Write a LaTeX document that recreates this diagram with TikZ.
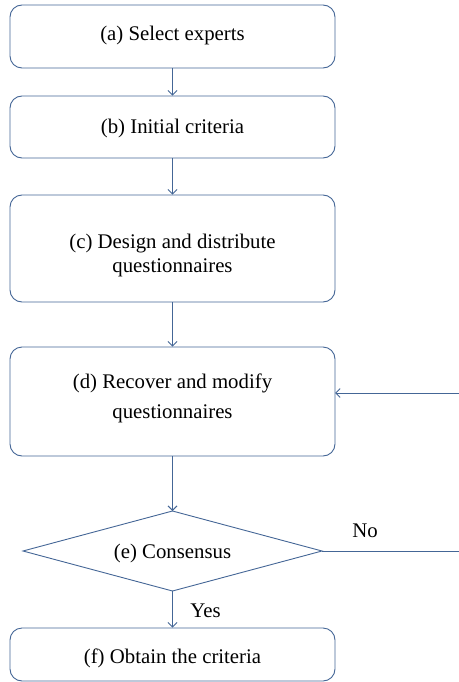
\documentclass[tikz,border=0pt]{standalone}
\usepackage{fontspec}
\setmainfont{Liberation Serif}
\usetikzlibrary{arrows.meta}
\definecolor{linec}{RGB}{68,102,150}
\begin{document}
\begin{tikzpicture}[x=1pt,y=-1pt,
  box/.style={draw=linec, line width=0.9pt, rounded corners=12pt, minimum width=325pt, inner sep=0pt},
  txt/.style={font=\fontsize{20.8}{24}\selectfont, anchor=base, inner sep=0pt, text=black},
  conn/.style={draw=linec, line width=0.9pt, -{Straight Barb[length=4.5pt,width=9pt]}},
  line/.style={draw=linec, line width=0.9pt}]
\useasboundingbox (0,0) rectangle (458,682);
% boxes
\node[box, minimum height=63pt] (a) at (172.5,36.5) {};
\node[box, minimum height=62pt] (b) at (172.5,127) {};
\node[box, minimum height=107pt] (c) at (172.5,248.5) {};
\node[box, minimum height=109pt] (d) at (172.5,401.5) {};
\node[box, minimum height=53pt] (f) at (172.5,654.5) {};
% diamond
\coordinate (et) at (172.5,511);
\coordinate (eb) at (172.5,591);
\coordinate (el) at (23,551);
\coordinate (er) at (322,551);
\draw[line] (et) -- (er) -- (eb) -- (el) -- cycle;
% texts
\node[txt] (ta) at (172.5,41) {(a) Select experts};
\node[txt] (tb) at (172.5,133) {(b) Initial criteria};
\node[txt] (tc1) at (172.5,248) {(c) Design and distribute};
\node[txt] (tc2) at (172.5,272) {questionnaires};
\node[txt] (td1) at (172.5,388) {(d) Recover and modify};
\node[txt] (td2) at (172.5,418) {questionnaires};
\node[txt] (te) at (172.5,558) {(e) Consensus};
\node[txt] (tf) at (172.5,663) {(f) Obtain the criteria};
\node[txt] (no) at (365,537) {No};
\node[txt] (yes) at (205.5,617) {Yes};
% connectors
\draw[conn] (a.south) -- (b.north);
\draw[conn] (b.south) -- (c.north);
\draw[conn] (c.south) -- (d.north);
\draw[conn] (d.south) -- (et);
\draw[conn] (eb) -- (f.north);
\coordinate (n1) at (462,551);
\coordinate (n2) at (462,393);
\coordinate (dr) at (335,393);
\draw[line] (er) -- (n1) -- (n2);
\draw[conn] (n2) -- (dr);
\end{tikzpicture}
\end{document}
